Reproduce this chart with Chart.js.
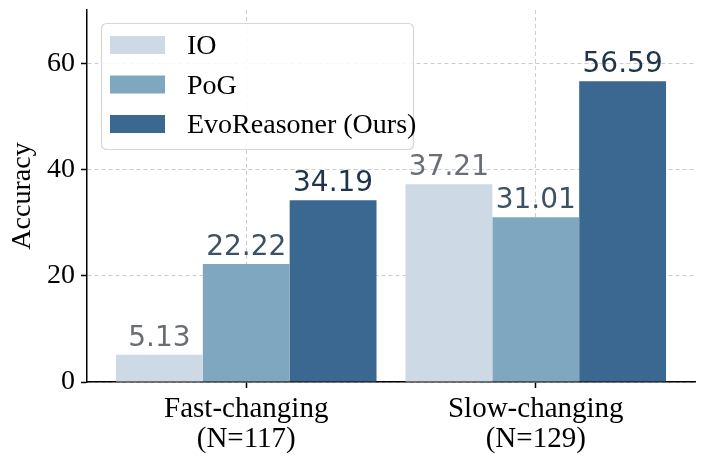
<!DOCTYPE html>
<html><head><meta charset="utf-8">
<script src="https://cdn.jsdelivr.net/npm/chart.js@4/dist/chart.umd.min.js"></script>
<style>html,body{margin:0;padding:0;background:#fff}#wrap{width:706px;height:464px}</style>
</head><body><div id="wrap"><canvas id="c" width="706" height="464"></canvas></div>
<script>
const categories = [["Fast-changing","(N=117)"],["Slow-changing","(N=129)"]];
const seriesNames = ["IO","PoG","EvoReasoner (Ours)"];
const ioValues = [5.13, 37.21];
const pogValues = [22.22, 31.01];
const evoValues = [34.19, 56.59];
const yTicks = [0, 20, 40, 60];
const barColors = ["#cdd9e5", "#7fa7c0", "#3b6890"];
const labelColors = ["#686e74", "#3c5264", "#1f344b"];

const serif = "'Liberation Serif', 'Times New Roman', serif";
const series = [ioValues, pogValues, evoValues];

const valueLabels = {
  id: 'valueLabels',
  afterDatasetsDraw(chart) {
    const ctx = chart.ctx;
    ctx.save();
    ctx.font = "28px 'DejaVu Sans'";
    ctx.textAlign = 'center';
    ctx.textBaseline = 'alphabetic';
    chart.data.datasets.forEach((ds, di) => {
      chart.getDatasetMeta(di).data.forEach((bar, i) => {
        ctx.fillStyle = labelColors[di];
        ctx.fillText(series[di][i].toFixed(2), bar.x, bar.y - 9);
      });
    });
    ctx.restore();
  }
};

const boxLegend = {
  id: 'boxLegend',
  afterDraw(chart) {
    const ctx = chart.ctx;
    ctx.save();
    const x = 101, y = 23, w = 312, h = 126, r = 5;
    ctx.beginPath();
    ctx.roundRect(x + 0.5, y + 0.5, w, h, r);
    ctx.fillStyle = 'rgba(255,255,255,0.85)';
    ctx.fill();
    ctx.strokeStyle = '#d6d6d6';
    ctx.lineWidth = 1.2;
    ctx.stroke();
    ctx.font = "28px " + serif;
    ctx.textBaseline = 'middle';
    ctx.textAlign = 'left';
    seriesNames.forEach((name, i) => {
      const cy = 45 + i * 39.5;
      ctx.fillStyle = barColors[i];
      ctx.fillRect(110, cy - 9, 55, 18);
      ctx.fillStyle = '#000';
      ctx.fillText(name, 187, cy + 2);
    });
    ctx.restore();
  }
};

new Chart(document.getElementById('c'), {
  type: 'bar',
  data: {
    datasets: seriesNames.map((name, di) => ({
      label: name,
      data: series[di].map((v, i) => ({x: i, y: v})),
      backgroundColor: barColors[di],
      borderWidth: 0,
      categoryPercentage: 0.9,
      barPercentage: 1.0
    }))
  },
  options: {
    responsive: false,
    animation: false,
    devicePixelRatio: 1,
    layout: {padding: {top: 10, right: 11, left: 0, bottom: 0}},
    plugins: {legend: {display: false}, tooltip: {enabled: false}},
    scales: {
      x: {
        type: 'linear',
        min: -0.55,
        max: 1.55,
        offset: false,
        afterBuildTicks(scale) { scale.ticks = categories.map((c, i) => ({value: i})); },
        afterFit(scale) { scale.height = 82; scale.paddingLeft = 0; scale.paddingRight = 0; },
        ticks: {
          callback: (v) => categories[v],
          color: '#000',
          font: {family: serif, size: 29, lineHeight: 1.05},
          padding: 6,
          maxRotation: 0,
          autoSkip: false
        },
        grid: {
          offset: false,
          color: '#cccccc',
          lineWidth: 1,
          drawTicks: true,
          tickLength: 6,
          tickColor: '#000',
          tickWidth: 1.5,
          tickBorderDash: []
        },
        border: {display: true, color: '#000', width: 1.5, dash: [4, 3]}
      },
      y: {
        min: 0,
        max: 70,
        afterBuildTicks(scale) { scale.ticks = yTicks.map(v => ({value: v})); },
        afterFit(scale) { scale.width = 87; scale.paddingTop = 0; scale.paddingBottom = 0; },
        title: {display: true, text: 'Accuracy', color: '#000', font: {family: serif, size: 28}, padding: {top: 6, bottom: 0}},
        ticks: {color: '#000', font: {family: serif, size: 28}, padding: 6},
        grid: {
          color: '#cccccc',
          lineWidth: 1,
          drawTicks: true,
          tickLength: 6,
          tickColor: '#000',
          tickWidth: 1.5,
          tickBorderDash: []
        },
        border: {display: true, color: '#000', width: 1.5, dash: [4, 3]}
      }
    }
  },
  plugins: [valueLabels, boxLegend]
});
</script></body></html>
